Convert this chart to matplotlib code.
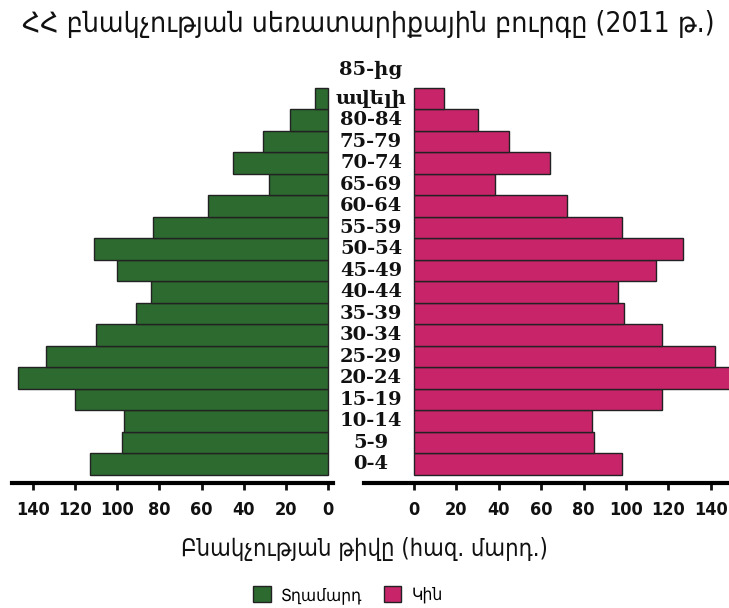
import matplotlib
matplotlib.use("Agg")
import matplotlib.pyplot as plt
from matplotlib.transforms import blended_transform_factory
from matplotlib.patches import Patch

# ---- data (thousand people), ordered from youngest to oldest ----
age_groups = ["0-4", "5-9", "10-14", "15-19", "20-24", "25-29", "30-34", "35-39",
              "40-44", "45-49", "50-54", "55-59", "60-64", "65-69", "70-74",
              "75-79", "80-84", "ավելի"]
top_label = "85-ից"
male = [113, 98, 97, 120, 147, 134, 110, 91, 84, 100, 111, 83, 57, 28, 45, 31, 18, 6]
female = [98, 85, 84, 117, 152, 142, 117, 99, 96, 114, 127, 98, 72, 38, 64, 45, 30, 14]
ticks = [0, 20, 40, 60, 80, 100, 120, 140]

title = "ՀՀ բնակչության սեռատարիքային բուրգը (2011 թ.)"
xlabel = "Բնակչության թիվը (հազ. մարդ.)"
legend_labels = ["Տղամարդ", "Կին"]

green = "#2c6a2f"
pink = "#c8246a"
edge = "#222222"

W, H = 729, 608
fig = plt.figure(figsize=(W / 100, H / 100), dpi=100)

def fx(px):
    return px / W

def fy(py):
    return 1 - py / H

ax_bottom_px = 483
ax_top_px = 60
axL = fig.add_axes([fx(12), fy(ax_bottom_px), fx(333 - 12), (ax_bottom_px - ax_top_px) / H])
axR = fig.add_axes([fx(364), fy(ax_bottom_px), fx(729 - 364), (ax_bottom_px - ax_top_px) / H])

y = list(range(len(age_groups)))
axL.barh(y, male, height=1.0, color=green, edgecolor=edge, linewidth=1.0)
axR.barh(y, female, height=1.0, color=pink, edgecolor=edge, linewidth=1.0)

ylim = (-0.872, 18.8)
axL.set_ylim(*ylim)
axR.set_ylim(*ylim)
axL.set_xlim(150, -2.4)
axR.set_xlim(-23.6, 148.6)

for ax in (axL, axR):
    ax.patch.set_visible(False)
    for s in ("top", "left", "right"):
        ax.spines[s].set_visible(False)
    ax.spines["bottom"].set_linewidth(3)
    ax.set_yticks([])
    ax.set_xticks(ticks)
    ax.set_xticklabels([str(t) for t in ticks], fontsize=13, family="DejaVu Sans",
                       fontstretch="condensed", fontweight="semibold")
    ax.tick_params(axis="x", direction="out", length=5, width=2, pad=8, colors="#111111")

# age labels in the middle
tr = blended_transform_factory(fig.transFigure, axL.transData)
for yi, lab in zip(y, age_groups):
    fig.text(fx(371), yi, lab, transform=tr, ha="center", va="center",
             fontsize=14, fontweight="bold", family="DejaVu Serif", color="#111111",
             zorder=10)
fig.text(fx(371), 18.35, top_label, transform=tr, ha="center", va="center",
         fontsize=14, fontweight="bold", family="DejaVu Serif", color="#111111",
         zorder=10)

fig.text(fx(368), fy(24), title, ha="center", va="center", fontsize=20.3,
         family="DejaVu Sans", fontstretch="condensed", color="#111111")
fig.text(0.5, fy(549), xlabel, ha="center", va="center", fontsize=17,
         family="DejaVu Sans", fontstretch="condensed", color="#111111")

handles = [Patch(facecolor=green, edgecolor=edge), Patch(facecolor=pink, edgecolor=edge)]
fig.legend(handles, legend_labels, loc="center", bbox_to_anchor=(fx(348), fy(595)),
           ncol=2, frameon=False, handlelength=1.0, handleheight=1.0,
           handletextpad=0.6, columnspacing=1.2,
           prop={"family": "DejaVu Sans", "stretch": "condensed", "size": 12.5})

fig.savefig("out.png", dpi=100)
